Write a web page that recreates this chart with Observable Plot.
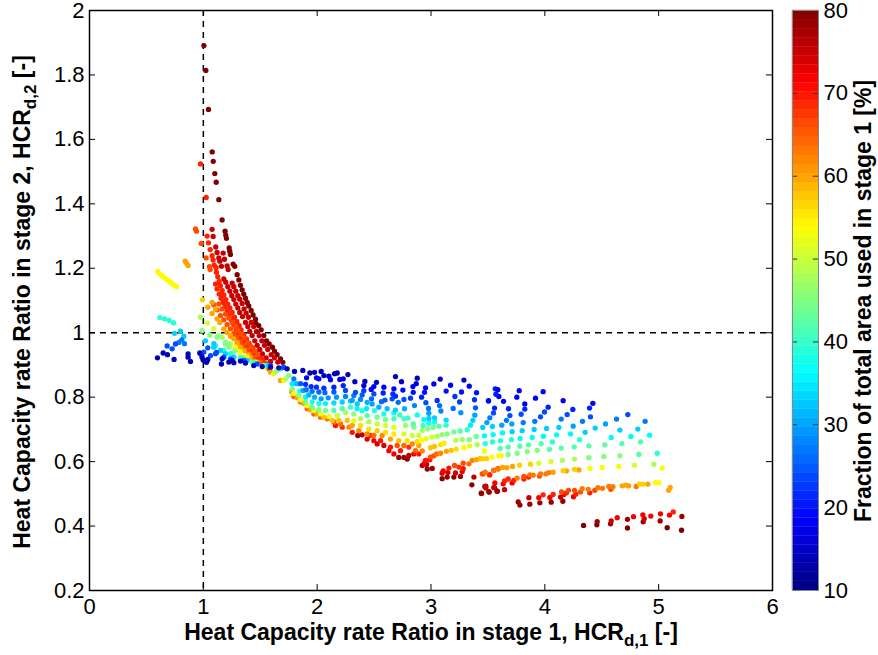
<!DOCTYPE html>
<html><head><meta charset="utf-8">
<script src="https://cdn.jsdelivr.net/npm/d3@7"></script>
<script src="https://cdn.jsdelivr.net/npm/@observablehq/plot@0.6"></script>
<style>html,body{margin:0;padding:0;background:#fff}#c{position:relative;width:878px;height:655px}#c svg{position:absolute;left:0;top:0;background:transparent}</style>
</head><body><div id="c"></div>
<script>
const f14=[[.597,.922],[.647,.937],[.685,.932],[.743,.917],[.866,.934],[.866,.924],[.887,.911],[.969,.937],[.989,.924],[.998,.915],[1.028,.908],[1.039,.917],[1.033,.914],[1.165,.919],[1.159,.903],[1.224,.909],[1.253,.914],[1.268,.907],[1.326,.912],[1.370,.906],[1.443,.898],[1.517,.895],[1.590,.893],[1.663,.891],[1.736,.888]];
const f18=[[3.587,.823],[3.775,.820],[3.985,.817],[3.596,.802],[3.754,.800],[3.918,.797],[3.505,.789],[3.637,.787],[3.824,.779],[4.161,.789],[4.422,.781]];
const f21=[[3.564,.826],[3.570,.809],[3.558,.766],[3.681,.764],[3.824,.763],[4.029,.769],[4.246,.762],[4.393,.766]];
const f24=[[3.505,.788],[3.549,.751],[3.693,.743],[3.792,.747],[3.997,.754],[4.196,.746],[4.401,.739],[4.729,.746],[3.962,.739],[.682,.959],[.755,.965],[.726,.950],[1.039,.953],[1.115,.939],[1.063,.929],[.975,.935],[1.004,.940],[1.107,.935],[1.180,.924],[1.238,.919],[1.356,.914],[1.473,.903],[1.590,.898],[1.707,.893]];
const f27=[[3.517,.736],[3.663,.728],[4.144,.732],[4.331,.725],[4.630,.732],[4.881,.725],[3.912,.725],[3.810,.721],[.811,.978],[.785,.970],[.834,.966]];
const f30=[[3.491,.721],[3.622,.713],[3.710,.717],[4.249,.710],[4.533,.717]];
const f33=[[3.455,.706],[3.540,.709],[4.015,.703],[4.123,.706],[4.442,.704],[3.906,.700],[3.801,.696],[3.713,.693],[4.659,.698],[4.817,.701],[4.354,.691],[.746,.998],[.799,1.005],[.829,.989],[1.019,.975],[1.092,.955],[1.092,.966],[1.150,.945],[1.194,.935],[1.268,.924],[1.385,.914],[1.575,.898],[1.692,.891]];
const f36=[[3.628,.689],[3.546,.684],[3.470,.680],[4.226,.686],[4.103,.683],[3.988,.679],[3.889,.675],[3.783,.672],[4.920,.682],[4.756,.678],[4.583,.675]];
const f39=[[3.707,.668],[3.611,.665],[3.540,.661],[3.476,.656],[4.305,.668],[4.067,.661],[.618,1.047],[.659,1.043],[.700,1.038],[.738,1.031],[1.107,.960],[1.180,.945],[1.238,.935],[1.326,.919],[1.443,.906],[1.560,.898],[1.678,.888],[4.987,.626]];
const f42=[[3.968,.656],[3.857,.652],[3.781,.648],[3.678,.645],[3.608,.641],[4.841,.661],[4.677,.656],[4.527,.652],[4.387,.649],[4.258,.646],[4.144,.642],[4.041,.638],[4.826,.622]];
const f45=[[3.933,.635],[3.845,.631],[3.757,.626],[3.678,.622],[4.659,.618],[4.518,.616],[4.387,.612],[.989,1.007],[1.057,.993],[1.121,.986],[1.194,.965],[1.224,.955],[1.194,.971],[1.224,.960],[1.268,.940],[1.326,.924],[1.429,.909],[1.546,.898],[1.648,.883],[1.751,.867]];
const f48=[[4.261,.608],[4.155,.604],[.975,1.048],[1.238,.966],[1.282,.945],[1.356,.924],[1.443,.909],[1.531,.898],[1.634,.878],[1.722,.857],[4.958,.592],[1.136,.991],[1.165,.986]];
const f51=[[4.053,.600],[3.947,.595],[4.788,.589],[1.036,1.030],[1.092,1.013]];
const f54=[[.600,1.190],[.618,1.182],[.638,1.177],[.659,1.171],[.682,1.164],[.702,1.159],[.726,1.152],[.746,1.147],[.764,1.143],[3.470,.633],[5.031,.580],[4.650,.585],[4.504,.582],[4.395,.579],[4.972,.535],[5.002,.535],[1.282,.955],[1.326,.940],[1.385,.924],[1.458,.909],[1.531,.893],[1.619,.872],[1.707,.852],[3.617,.618],[3.596,.618],[3.535,.614]];
const f57=[[4.261,.576],[4.161,.572],[3.874,.592],[3.778,.589],[3.488,.609],[3.453,.609],[4.832,.531],[4.861,.530],[.992,1.102]];
const f60=[[3.716,.585],[3.666,.581],[3.628,.582],[4.299,.574],[4.190,.571],[4.073,.567],[4.905,.530],[4.738,.525],[4.712,.527],[4.679,.525],[5.101,.520],[5.087,.511],[1.039,1.079],[1.077,1.094],[1.107,1.074],[1.077,1.060],[1.121,1.043],[1.145,1.032],[1.180,1.012],[1.209,1.001],[1.239,.988],[1.268,.981],[1.297,.970],[1.326,.955],[1.361,.944],[1.396,.932],[.840,1.222],[.852,1.216],[.866,1.209],[1.238,.991],[1.297,.966],[1.356,.945],[1.414,.924],[1.473,.909],[1.590,.878],[1.678,.852]];
const f63=[[3.590,.577],[3.549,.573],[4.035,.566],[4.009,.562],[3.962,.562],[3.898,.558],[3.868,.559],[3.757,.549],[3.476,.567],[4.598,.522],[4.562,.523],[4.507,.517],[4.466,.519],[4.803,.523],[4.381,.514],[4.328,.516]];
const f66=[[3.953,.555],[3.816,.554],[3.450,.562],[4.580,.514],[4.439,.511],[4.261,.511],[4.208,.511],[4.147,.506],[4.313,.506],[.931,1.322],[.940,1.315],[.981,1.277],[1.025,1.232],[1.054,1.205],[1.060,1.196],[1.136,1.089],[1.165,1.074],[1.092,1.087],[1.121,1.071],[1.194,1.058],[1.150,1.053],[1.224,1.046],[1.180,1.040],[1.253,1.031],[1.209,1.025],[1.282,1.019],[1.239,1.012],[1.303,1.007],[1.268,.998],[1.332,.996],[1.294,.986],[1.361,.984],[1.320,.973],[1.390,.970],[1.350,.961],[1.420,.957],[1.379,.947],[1.449,.944],[1.408,.934],[1.478,.932],[1.443,.922],[1.268,.986],[1.326,.966],[1.385,.945],[1.443,.924],[1.502,.909],[1.575,.888]];
const f69=[[3.857,.552],[3.816,.546],[3.728,.542],[3.678,.546],[4.395,.503],[4.190,.503],[3.646,.540],[3.514,.559],[4.073,.498],[3.985,.497],[4.272,.499],[5.128,.444],[3.588,.578],[3.552,.573],[3.517,.559],[3.459,.562],[.975,1.524],[1.025,1.420],[1.033,1.300],[1.045,1.279],[1.060,1.258],[1.077,1.239],[1.086,1.226],[1.095,1.210],[1.112,1.202],[1.115,1.188],[1.127,1.174],[1.107,1.151],[1.139,1.159],[1.150,1.146],[1.121,1.136],[1.165,1.131],[1.139,1.120],[1.180,1.117],[1.156,1.107],[1.197,1.103],[1.174,1.094],[1.215,1.089],[1.192,1.081],[1.233,1.077],[1.209,1.067],[1.253,1.063],[1.227,1.053],[1.273,1.048],[1.247,1.040],[1.294,1.035],[1.315,1.022],[1.268,1.025],[1.332,1.009],[1.288,1.011],[1.355,.994],[1.309,.998],[1.379,.981],[1.332,.986],[1.402,.967],[1.355,.971],[1.432,.953],[1.379,.957],[1.455,.939],[1.408,.942],[1.484,.926],[1.437,.929],[1.525,.911],[1.473,.915],[1.297,.986],[1.356,.981],[1.399,.960],[1.458,.940],[1.517,.919],[1.560,.903],[1.341,.966]];
const f72=[[3.713,.534],[3.634,.531],[3.561,.534],[4.252,.491],[4.044,.489],[3.947,.488],[4.861,.435],[4.931,.431],[5.016,.438],[5.095,.434],[4.636,.426],[4.779,.429],[4.167,.498]];
const f75=[[3.552,.520],[3.482,.524],[3.646,.513],[3.482,.518],[4.138,.490],[3.860,.488],[4.873,.423],[4.583,.416],[1.077,1.321],[1.086,1.299],[1.109,1.266],[1.121,1.249],[1.174,1.247],[1.136,1.232],[1.186,1.228],[1.145,1.222],[1.159,1.206],[1.209,1.207],[1.218,1.196],[1.180,1.167],[1.197,1.157],[1.253,1.154],[1.268,1.143],[1.215,1.143],[1.233,1.129],[1.285,1.129],[1.303,1.115],[1.250,1.115],[1.320,1.104],[1.268,1.103],[1.285,1.089],[1.341,1.091],[1.358,1.074],[1.303,1.077],[1.376,1.061],[1.320,1.063],[1.396,1.048],[1.344,1.050],[1.370,1.032],[1.420,1.032],[1.443,1.019],[1.391,1.019],[1.408,1.004],[1.467,1.004],[1.490,.991],[1.429,.991],[1.514,.975],[1.452,.975],[1.537,.961],[1.473,.961],[1.566,.948],[1.496,.948],[1.596,.932],[1.519,.934],[1.625,.922],[1.552,.922],[1.654,.909],[1.590,.911]];
const f78=[[3.511,.505],[3.581,.508],[3.444,.501],[4.158,.477],[4.056,.474],[3.956,.472],[3.766,.475],[3.868,.468],[3.781,.465],[4.460,.414],[4.577,.407],[4.726,.421],[4.864,.413],[5.013,.416],[5.204,.430],[3.473,.523],[3.508,.507],[3.558,.519],[3.582,.508]];
const f80=[[1.005,1.891],[1.022,1.814],[1.045,1.693],[1.078,1.561],[1.087,1.532],[1.101,1.494],[1.113,1.467],[1.136,1.413],[1.165,1.350],[1.191,1.315],[1.197,1.303],[1.203,1.293],[1.227,1.263],[1.232,1.253],[1.238,1.243],[1.262,1.213],[1.276,1.206],[1.297,1.180],[1.312,1.164],[1.326,1.147],[1.341,1.133],[1.355,1.120],[1.370,1.107],[1.385,1.094],[1.399,1.083],[1.420,1.069],[1.437,1.055],[1.458,1.042],[1.461,1.029],[1.487,1.022],[1.508,1.009],[1.531,.991],[1.555,.975],[1.578,.965],[1.607,.955],[1.625,.943],[1.648,.932],[1.678,.919],[1.698,.908],[4.340,.402],[4.457,.404],[4.726,.394],[5.075,.395],[5.201,.387],[3.441,.502]];

// x, y, fraction triples for the dense fan between x = 1.77 and x = 3.44
const fanNear=[[1.801,.880,14],[1.874,.883,14],[1.936,.875,14],[1.977,.877,14],[2.035,.880,14],[2.059,.867,15],[2.103,.865,15],[2.153,.873,14],[2.176,.875,14],[2.270,.870,14],[2.229,.857,17],[2.199,.855,17],[2.117,.854,18],[2.015,.857,18],[1.994,.860,18],[1.907,.860,18],[2.229,.836,21],[2.147,.831,21],[2.059,.828,22],[1.994,.831,22],[1.947,.833,22],[1.898,.840,22],[2.249,.821,24],[2.147,.816,25],[2.068,.814,26],[2.015,.816,26],[1.956,.818,27],[1.904,.823,27],[1.854,.842,25],[1.795,.857,27],[2.249,.802,28],[2.170,.800,29],[2.097,.798,29],[2.035,.795,30],[1.977,.800,31],[1.927,.807,31],[1.877,.821,30],[1.819,.842,32],[2.293,.788,33],[2.220,.785,33],[2.147,.782,34],[2.073,.780,36],[2.015,.780,38],[1.956,.785,38],[1.898,.800,36],[1.848,.819,38],[1.781,.842,35],[2.293,.769,40],[2.220,.764,41],[2.147,.759,42],[2.073,.759,44],[2.015,.761,45],[1.956,.769,44],[1.898,.785,44],[1.839,.805,46],[1.781,.826,44],[2.249,.752,48],[2.176,.743,50],[2.103,.740,52],[2.030,.748,52],[1.971,.759,52],[1.912,.774,53],[1.854,.792,54],[1.795,.811,53],[2.264,.728,58],[2.190,.728,58],[2.132,.728,58],[2.059,.738,58],[2.000,.748,60],[1.942,.761,60],[1.883,.780,60],[1.825,.798,60],[1.775,.816,60],[2.279,.707,62],[2.205,.717,64],[2.147,.723,64],[2.088,.733,64],[2.030,.738,64],[1.971,.748,64],[1.912,.764,64],[1.854,.785,64],[1.795,.802,65],[2.220,.707,68],[2.161,.712,70]];
const fanMid=[[2.688,.864,14],[2.741,.848,15],[2.879,.859,14],[2.870,.842,16],[2.841,.833,18],[2.419,.849,14],[2.410,.836,16],[2.331,.848,14],[2.521,.846,15],[2.498,.833,17],[2.475,.824,19],[2.586,.831,18],[2.674,.826,19],[2.753,.822,19],[2.844,.815,20],[2.580,.813,21],[2.665,.810,22],[2.820,.797,23],[2.688,.803,22],[2.762,.793,24],[2.659,.795,24],[2.595,.791,25],[2.565,.786,26],[2.712,.784,26],[2.498,.810,24],[2.477,.795,26],[2.410,.820,23],[2.395,.807,25],[2.381,.793,28],[2.337,.815,24],[2.322,.805,27],[2.308,.790,30],[2.855,.774,28],[2.767,.764,31],[2.688,.760,33],[2.615,.764,32],[2.542,.769,31],[2.483,.779,30],[2.439,.784,31],[2.352,.779,33],[2.352,.764,36],[2.434,.764,35],[2.504,.758,38],[2.586,.748,38],[2.674,.751,37],[2.726,.745,40],[2.797,.735,40],[2.879,.745,37],[2.844,.717,42],[2.762,.733,41],[2.674,.733,41],[2.600,.730,44],[2.527,.738,44],[2.439,.743,42],[2.395,.758,39],[2.322,.748,46],[2.381,.733,48],[2.454,.724,48],[2.527,.717,50],[2.600,.712,51],[2.674,.707,52],[2.776,.712,47],[2.849,.707,45],[2.322,.727,52],[2.381,.712,56],[2.454,.701,56],[2.527,.696,57],[2.600,.691,56],[2.674,.686,55],[2.762,.686,52],[2.835,.681,50],[2.893,.681,50],[2.308,.712,60],[2.366,.696,62],[2.439,.686,62],[2.498,.681,64],[2.571,.681,62],[2.644,.670,60],[2.717,.665,58],[2.791,.665,56],[2.879,.662,56],[2.308,.691,70],[2.357,.681,78],[2.395,.683,76],[2.439,.670,74],[2.498,.665,72],[2.469,.681,68],[2.557,.665,70],[2.527,.655,74],[2.586,.650,74],[2.644,.645,70],[2.703,.650,66],[2.762,.650,64],[2.835,.655,62],[2.893,.650,60],[2.630,.634,72],[2.674,.624,72],[2.732,.634,70],[2.805,.645,68],[2.864,.634,64],[2.717,.613,79],[2.762,.613,78],[2.805,.619,76],[2.849,.624,72],[2.893,.624,70],[2.791,.608,79]];
const fanFar=[[3.081,.856,14],[3.289,.853,16],[3.025,.841,18],[3.172,.837,18],[3.336,.834,18],[2.952,.829,19],[3.133,.819,20],[3.268,.816,20],[3.400,.814,20],[2.943,.815,20],[2.917,.800,21],[3.210,.802,22],[3.054,.790,22],[3.382,.792,22],[2.955,.783,24],[3.251,.785,23],[3.075,.774,26],[3.391,.767,25],[3.195,.765,26],[2.978,.765,27],[3.087,.757,28],[3.262,.752,29],[2.981,.750,30],[3.385,.744,30],[3.031,.736,33],[3.133,.729,34],[2.981,.734,33],[2.937,.730,36],[3.368,.728,33],[3.347,.713,35],[2.931,.712,40],[3.031,.723,37],[2.981,.719,38],[3.133,.713,40],[3.069,.710,42],[3.019,.707,44],[2.972,.702,45],[2.923,.697,47],[3.318,.699,40],[3.256,.695,42],[3.201,.692,44],[3.142,.686,45],[3.098,.684,46],[3.054,.679,48],[3.008,.676,50],[2.958,.671,52],[2.917,.666,54],[3.397,.678,44],[3.336,.668,45],[3.274,.669,47],[3.218,.666,49],[3.113,.657,55],[3.084,.653,56],[3.031,.647,58],[2.996,.643,58],[2.923,.633,62],[3.406,.653,48],[3.341,.649,52],[3.289,.643,54],[3.221,.639,56],[3.177,.635,58],[3.136,.632,60],[3.084,.626,62],[3.049,.624,64],[3.025,.618,66],[2.996,.614,66],[2.990,.606,70],[2.952,.604,70],[2.943,.595,72],[2.923,.588,76],[2.961,.591,76],[2.967,.577,78],[3.011,.579,78],[3.429,.609,58],[3.400,.606,60],[3.362,.604,62],[3.333,.593,64],[3.283,.595,66],[3.245,.583,68],[3.283,.578,70],[3.207,.588,66],[3.157,.580,70],[3.107,.571,72],[3.098,.564,75],[3.148,.566,74],[3.215,.565,74],[3.274,.569,72],[3.098,.547,79],[3.142,.552,79],[3.201,.552,79],[3.259,.554,78],[3.377,.552,76],[3.359,.528,79]];

const seriesByFraction=[[80,f80],[78,f78],[75,f75],[72,f72],[69,f69],[66,f66],[63,f63],[60,f60],[57,f57],[54,f54],[51,f51],[48,f48],[45,f45],[42,f42],[39,f39],[36,f36],[33,f33],[30,f30],[27,f27],[24,f24],[21,f21],[18,f18],[14,f14]];
const rows=[
  ...seriesByFraction.flatMap(([f,pts])=>pts.map(([x,y])=>({x,y,f}))),
  ...[...fanNear,...fanMid,...fanFar].map(([x,y,f])=>({x,y,f}))
].sort((a,b)=>b.f-a.f);

const xTicks=[0,1,2,3,4,5,6];
const yTicks=[0.2,0.4,0.6,0.8,1,1.2,1.4,1.6,1.8,2];
const cbTicks=[10,20,30,40,50,60,70,80];
const xLabel=["Heat Capacity rate Ratio in stage 1, HCR","d,1"," [-]"];
const yLabel=["Heat Capacity rate Ratio in stage 2, HCR","d,2"," [-]"];
const cbLabel="Fraction of total area used in stage 1 [%]";
const jetColor={type:"linear",domain:[10,18.75,36.25,53.75,71.25,80],range:["#00007f","#0000ff","#00ffff","#ffff00","#ff0000","#800000"],clamp:true,interpolate:"rgb"};

const FONT="'Liberation Sans',Arial,sans-serif";
const W=878,H=655,ML=89,MR=106,MT=10,MB=65;
const main=Plot.plot({
  width:W,height:H,marginLeft:ML,marginRight:MR,marginTop:MT,marginBottom:MB,
  style:{fontFamily:FONT,fontSize:"22px",background:"transparent",overflow:"visible"},
  x:{domain:[0,6],label:null},
  y:{domain:[0.2,2],label:null},
  color:jetColor,
  marks:[
    Plot.ruleX([1],{stroke:"#000",strokeWidth:1.5,strokeDasharray:"6,5"}),
    Plot.ruleY([1],{stroke:"#000",strokeWidth:1.5,strokeDasharray:"6,5"}),
    Plot.dot(rows,{x:"x",y:"y",r:2.65,fill:"f",stroke:"none"}),
    Plot.ruleX(xTicks,{y1:0.2,y2:0.2186,stroke:"#000"}),
    Plot.ruleX(xTicks,{y1:2,y2:1.9814,stroke:"#000"}),
    Plot.ruleY(yTicks,{x1:0,x2:0.0527,stroke:"#000"}),
    Plot.ruleY(yTicks,{x1:6,x2:5.9473,stroke:"#000"}),
    Plot.axisX(xTicks,{anchor:"bottom",tickSize:0,tickPadding:8,label:null,fontSize:22,fill:"#000",tickFormat:d=>String(d)}),
    Plot.axisY(yTicks,{anchor:"left",tickSize:0,tickPadding:5,label:null,fontSize:22,fill:"#000",tickFormat:d=>String(d)}),
    Plot.frame({stroke:"#000",strokeWidth:1.5})
  ]
});
const bandEdges=d3.range(65).map(i=>10+i*70/64);
const bands=bandEdges.slice(0,-1).map((lo,i)=>({lo,hi:bandEdges[i+1]}));
const bar=Plot.plot({
  width:W,height:H,marginLeft:792,marginRight:60,marginTop:MT,marginBottom:MB,
  style:{fontFamily:FONT,fontSize:"22px",background:"transparent",overflow:"visible"},
  x:{domain:[0,1],axis:null},
  y:{domain:[10,80],label:null},
  color:jetColor,
  marks:[
    Plot.rect(bands,{x1:0,x2:1,y1:"lo",y2:"hi",fill:d=>(d.lo+d.hi)/2,stroke:d=>(d.lo+d.hi)/2,strokeWidth:.3}),
    Plot.ruleY(cbTicks,{x1:0,x2:0.2,stroke:"#333"}),
    Plot.ruleY(cbTicks,{x1:.8,x2:1,stroke:"#333"}),
    Plot.axisY(cbTicks,{anchor:"right",tickSize:0,tickPadding:5,label:null,fontSize:22,fill:"#000"}),
    Plot.frame({stroke:"#888",strokeWidth:1})
  ]
});
const host=document.getElementById("c");
host.append(main,bar);

function label(svg,parts,x,y,rot,anchor){
  const t=d3.select(svg).append("text")
    .attr("transform",`translate(${x},${y}) rotate(${rot})`)
    .attr("text-anchor",anchor).attr("font-family",FONT).attr("font-weight","bold").attr("font-size",23).attr("fill","#000");
  parts.forEach((p,i)=>{
    const s=t.append("tspan").text(p);
    if(i===1) s.attr("dy",6).attr("font-size",17);
    if(i===2) s.attr("dy",-6);
  });
}
label(main,xLabel,431,640,0,"middle");
label(main,yLabel,30,302,-90,"middle");
label(bar,[cbLabel],871,301,-90,"middle");
</script></body></html>
